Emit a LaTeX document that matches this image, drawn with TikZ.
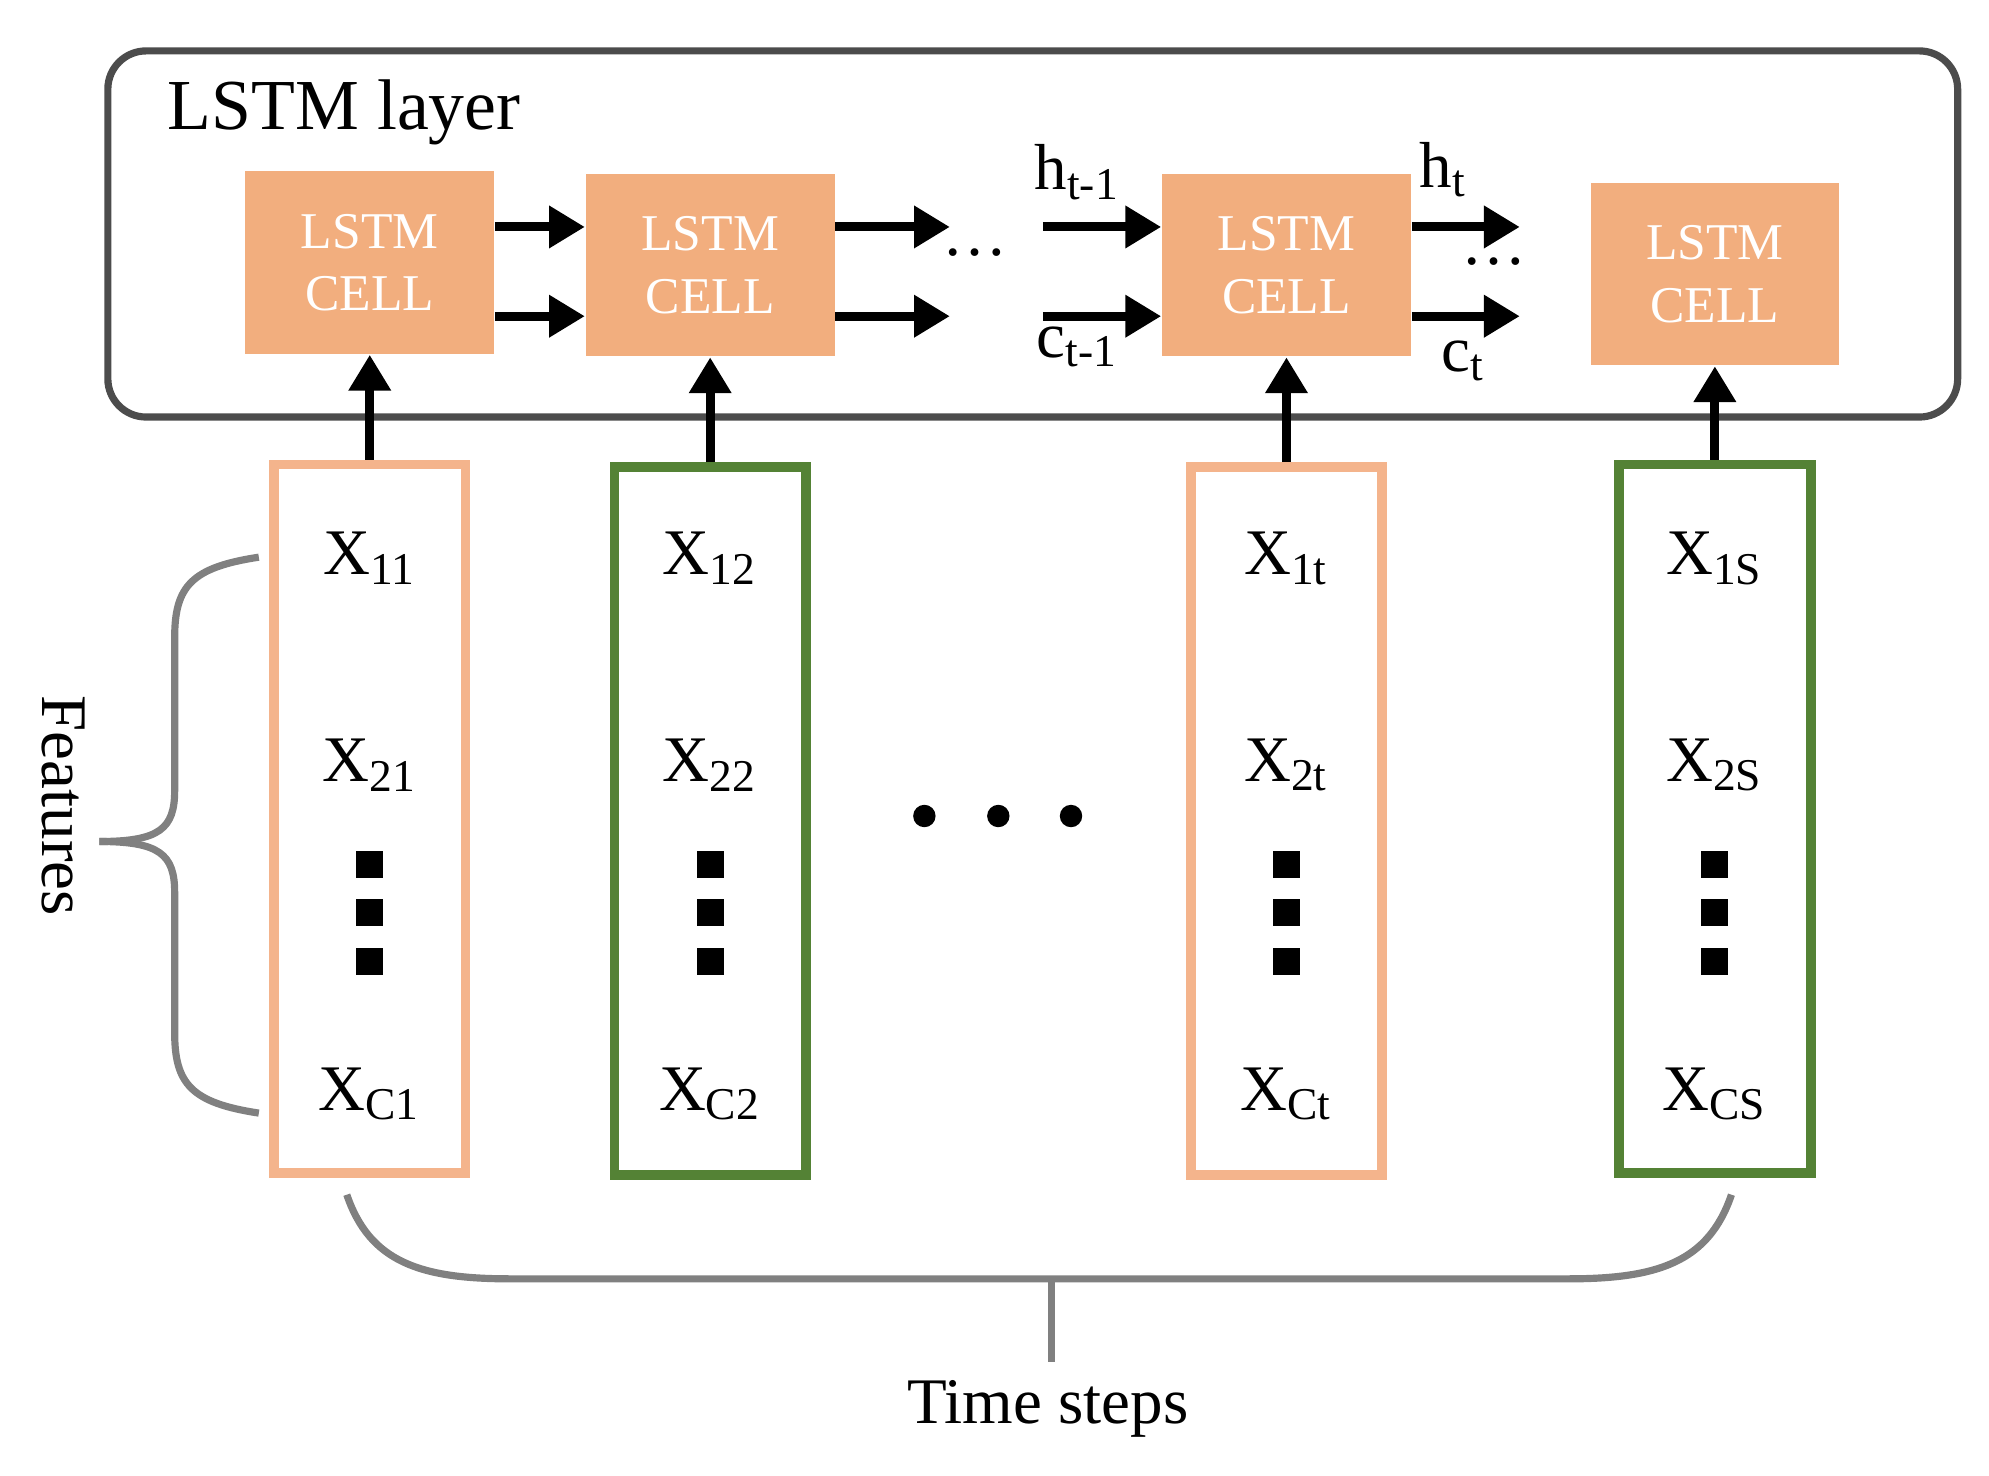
\documentclass[tikz,border=0pt]{standalone}
\usepackage{fontspec}
\setmainfont{Liberation Serif}
\usetikzlibrary{arrows.meta}
\definecolor{cellor}{HTML}{F2AE7E}
\definecolor{boxor}{HTML}{F4B48C}
\definecolor{boxgr}{HTML}{548235}
\begin{document}
\begin{tikzpicture}[x=0.01cm,y=-0.01cm,
  cell/.style={fill=cellor,minimum width=1.95cm,minimum height=1.43cm,inner sep=0,align=center,text=white,font=\fontsize{11.5}{14}\selectfont},
  inbox/.style={draw,line width=2.2pt,minimum width=1.5cm,minimum height=5.55cm,inner sep=0},
  arr/.style={-{Triangle[length=8pt,width=9pt]},line width=2pt},
  lab/.style={font=\fontsize{14.5}{16}\selectfont},
  sq/.style={fill=black,minimum size=6pt,inner sep=0},
  br/.style={draw=gray,line width=1.6pt}]
\useasboundingbox (0,0) rectangle (1560,1157.6);
\node[draw=black!70,line width=1.6pt,rounded corners=0.3cm,minimum width=14.5cm,minimum height=2.87cm] (layer) at (810,183.5) {};
\node[font=\fontsize{16}{18}\selectfont] (lt) at (270,88) {LSTM layer};
\node[cell] (c1) at (290,206) {LSTM\\CELL};
\node[cell] (c2) at (557,208) {LSTM\\CELL};
\node[cell] (c3) at (1009,208) {LSTM\\CELL};
\node[cell] (c4) at (1345,215) {LSTM\\CELL};
\node[inbox,draw=boxor] (b1) at (290,642) {};
\node[inbox,draw=boxgr] (b2) at (557,644) {};
\node[inbox,draw=boxor] (b3) at (1009,644) {};
\node[inbox,draw=boxgr] (b4) at (1345,642) {};
\coordinate (a1) at (745,178); \coordinate (a2) at (745,248);
\coordinate (p1) at (818,178); \coordinate (p2) at (818,248);
\coordinate (q1) at (1192,178); \coordinate (q2) at (1192,248);
\draw[arr] (c1.east|-0,178) -- (c2.west|-0,178);
\draw[arr] (c1.east|-0,248) -- (c2.west|-0,248);
\draw[arr] (c2.east|-0,178) -- (a1);
\draw[arr] (c2.east|-0,248) -- (a2);
\draw[arr] (p1) -- (c3.west|-0,178);
\draw[arr] (p2) -- (c3.west|-0,248);
\draw[arr] (c3.east|-0,178) -- (q1);
\draw[arr] (c3.east|-0,248) -- (q2);
\node[lab] (d1) at (765,198) {\dots};
\node[lab] (d2) at (1172,205) {\dots};
\node[lab] (h1) at (845,135) {h\textsubscript{t-1}};
\node[lab] (cc1) at (845,272) {c\textsubscript{t-1}};
\node[lab] (h2) at (1132,133) {h\textsubscript{t}};
\node[lab] (cc2) at (1148,283) {c\textsubscript{t}};
\foreach \b/\c in {b1/c1,b2/c2,b3/c3,b4/c4}{\draw[arr] (\b.north) -- (\c.south);}
\foreach \b/\x/\s in {b1/290/1,b2/557/2,b3/1009/t,b4/1345/S}{
  \node[lab] (\b top) at (\x,438) {X\textsubscript{1\s}};
  \node[lab] (\b mid) at (\x,600) {X\textsubscript{2\s}};
  \node[lab] (\b bot) at (\x,858) {X\textsubscript{C\s}};
  \node[sq] (\b s1) at (\x,678) {};
  \node[sq] (\b s2) at (\x,716) {};
  \node[sq] (\b s3) at (\x,754) {};
}
\foreach \x/\n in {725/m1,783/m2,840/m3}{\node[circle,fill=black,minimum size=5pt,inner sep=0] (\n) at (\x,640) {};}
\draw[br] (203,437) .. controls (150,445) and (137,460) .. (137,500) -- (137,620) .. controls (137,650) and (125,660) .. (78,660);
\draw[br] (203,873) .. controls (150,865) and (137,850) .. (137,810) -- (137,700) .. controls (137,670) and (125,660) .. (78,660);
\node[lab,rotate=-90] (feat) at (50,632) {Features};
\draw[br] (272,937) .. controls (290,990) and (330,1003) .. (400,1003) -- (1230,1003) .. controls (1300,1003) and (1340,990) .. (1358,937);
\draw[br] (825,1003) -- (825,1068);
\node[lab] (ts) at (822,1105) {Time steps};
\end{tikzpicture}
\end{document}
